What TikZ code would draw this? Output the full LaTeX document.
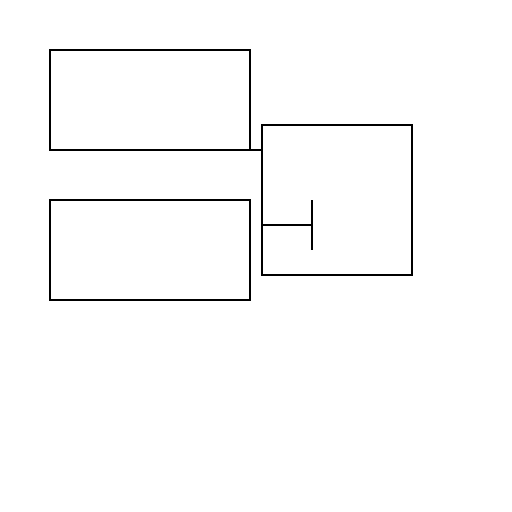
\documentclass[tikz,border=0pt]{standalone}
\usetikzlibrary{arrows.meta,positioning}
\begin{document}
\begin{tikzpicture}[
    x=0.02cm, y=-0.02cm,
    line width=0.04cm,
    wide/.style={draw, minimum width=4cm, minimum height=2cm, inner sep=0pt, outer sep=0pt},
    square/.style={draw, minimum width=3cm, minimum height=3cm, inner sep=0pt, outer sep=0pt},
    inhibit/.style={-{Bar[width=1cm]}}
]
\useasboundingbox (0,0) rectangle (512,512);
% left boxes
\node[wide] (top) at (150, 100) {};
\node[wide] (bottom) at (150, 250) {};
% right box
\node[square] (right) at (337, 200) {};
\coordinate (stop) at (313.5, 225);

\draw (top.south east) -- (top.south east -| right.west);
\draw[inhibit] (stop -| right.west) -- (stop);
\end{tikzpicture}
\end{document}
